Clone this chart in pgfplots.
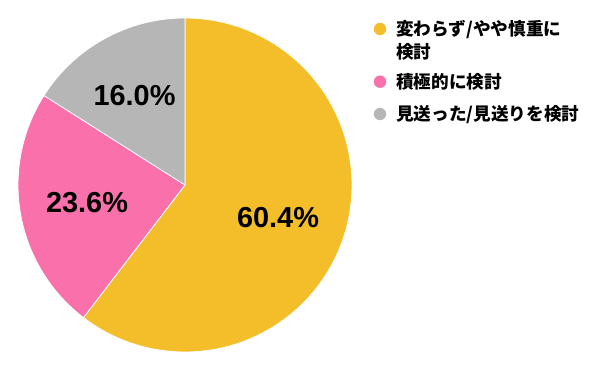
\documentclass[border=0pt]{standalone}
\usepackage{pgfplots}
\pgfplotsset{compat=1.18}
\usepackage{pgfplotstable}
\usepackage{fontspec}
\setmainfont{Liberation Sans}
\newfontfamily\jp{Noto Sans CJK JP}
\definecolor{cyel}{RGB}{243,190,42}
\definecolor{cpink}{RGB}{250,112,170}
\definecolor{cgray}{RGB}{182,182,182}
\tikzset{lg/.style={anchor=west, inner sep=0pt, font=\jp\bfseries\fontsize{17.7}{20}\selectfont}}
\pgfplotstableread{
share
60.4
23.6
16.0
}\piedata
\pgfplotstablegetelem{0}{share}\of\piedata \let\va\pgfplotsretval
\pgfplotstablegetelem{1}{share}\of\piedata \let\vb\pgfplotsretval
\pgfplotstablegetelem{2}{share}\of\piedata \let\vc\pgfplotsretval
\pgfmathsetmacro{\aA}{90-3.6*\va}
\pgfmathsetmacro{\aB}{\aA-3.6*\vb}
\pgfmathsetmacro{\aC}{\aB-3.6*\vc}
\begin{document}
\begin{tikzpicture}
\begin{axis}[
  scale only axis, width=600bp, height=371bp,
  xmin=0, xmax=600, ymin=0, ymax=371,
  hide axis, clip=false,
]
\path (axis cs:0,0) rectangle (axis cs:600,371);
\addplot[fill=cyel, draw=white, line width=0.8pt, domain=\aA:90, samples=120, variable=\t]
  ({185+167*cos(\t)},{186+167*sin(\t)}) -- (axis cs:185,186) -- cycle;
\addplot[fill=cpink, draw=white, line width=0.8pt, domain=\aB:\aA, samples=60, variable=\t]
  ({185+167*cos(\t)},{186+167*sin(\t)}) -- (axis cs:185,186) -- cycle;
\addplot[fill=cgray, draw=white, line width=0.8pt, domain=\aC:\aB, samples=60, variable=\t]
  ({185+167*cos(\t)},{186+167*sin(\t)}) -- (axis cs:185,186) -- cycle;
% legend markers
\addplot[only marks, mark=*, mark size=6pt, color=cyel, mark options={draw=none}] coordinates {(380,342)};
\addplot[only marks, mark=*, mark size=6pt, color=cpink, mark options={draw=none}] coordinates {(380,289.3)};
\addplot[only marks, mark=*, mark size=6pt, color=cgray, mark options={draw=none}] coordinates {(380,257)};
\node[lg] at (axis cs:396,341) {変わらず/やや慎重に};
\node[lg] at (axis cs:396,319.5) {検討};
\node[lg] at (axis cs:396,289) {積極的に検討};
\node[lg] at (axis cs:396,256.5) {見送った/見送りを検討};
\node[font=\bfseries\fontsize{29}{30}\selectfont] at (axis cs:278,153.5) {\va\%};
\node[font=\bfseries\fontsize{29}{30}\selectfont] at (axis cs:87,168) {\vb\%};
\node[font=\bfseries\fontsize{29}{30}\selectfont] at (axis cs:134.5,275) {\vc\%};
\end{axis}
\end{tikzpicture}
\end{document}
